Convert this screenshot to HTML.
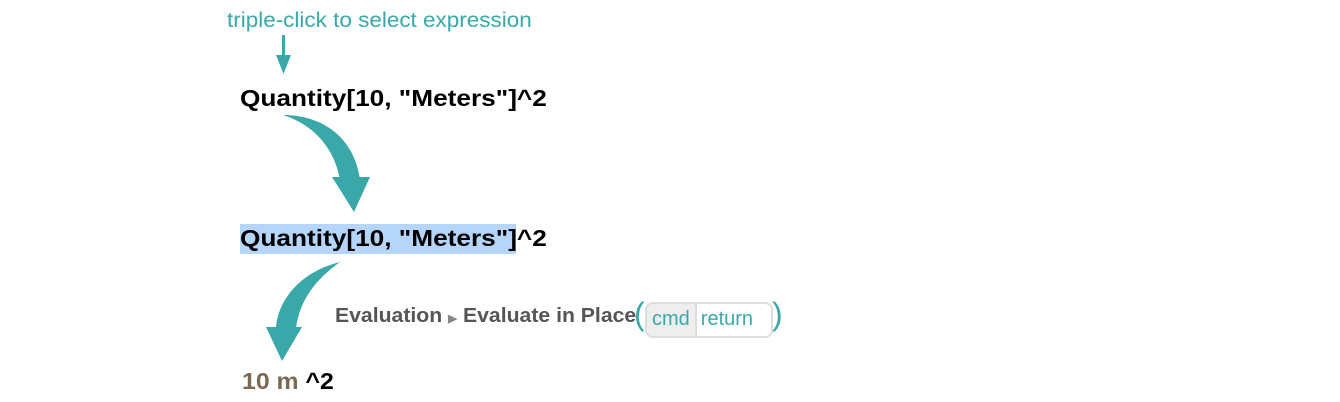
<!DOCTYPE html>
<html><head><style>
body{margin:0;width:1340px;height:402px;background:#fff;position:relative;overflow:hidden;font-family:"Liberation Sans",sans-serif}
.a{position:absolute;white-space:nowrap;transform-origin:0 0}
.m{font-weight:bold;font-size:23px;color:#000;transform:scaleX(1.14)}
</style></head><body>
<div class="a" style="left:227px;top:9px;font-size:21px;color:#3aa8a8;transform:scaleX(1.07)">triple-click to select expression</div>
<div class="a m" style="left:240px;top:85px">Quantity[10, "Meters"]^2</div>
<div class="a" style="left:240px;top:224px;width:276px;height:30px;background:#b5d5fb"></div>
<div class="a m" style="left:240px;top:225px">Quantity[10, "Meters"]^2</div>
<div class="a m" style="left:242px;top:368px;transform:scaleX(1.08)"><span style="color:#7a6a55">10 m</span> ^2</div>
<div class="a" style="left:335px;top:305px;font-size:20px;font-weight:bold;color:#555;transform:scaleX(1.06)">Evaluation <span style="font-size:11px;color:#888">▶</span> Evaluate in Place</div>
<div class="a" style="left:634px;top:296px;font-size:32px;color:#3aa8a8">(</div>
<div class="a" style="left:645px;top:302px;height:32px;width:124px;border:2px solid #ddd;border-radius:8px;font-size:20px;color:#3aa8a8;display:flex;overflow:hidden">
<span style="background:#eee;padding:4px 5px 0 5px;border-right:2px solid #ddd">cmd</span><span style="padding:4px 5px 0 4px">return</span></div>
<div class="a" style="left:772px;top:296px;font-size:32px;color:#3aa8a8">)</div>
<svg class="a" style="left:0;top:0" width="1340" height="402">
<g fill="#3aa8a8">
<rect x="282" y="35" width="3" height="24"/>
<polygon points="276,55 291,55 283.5,74"/>
<path d="M283,115 C325,115 355,140 360,180 L340,180 C335,150 315,125 283,115 Z"/>
<polygon points="332,177 370,177 354,212"/>
<path d="M340,262 C300,272 278,300 276,328 L296,328 C300,300 315,280 340,262 Z"/>
<polygon points="266,327 302,327 282,361"/>
</g>
</svg>
</body></html>
